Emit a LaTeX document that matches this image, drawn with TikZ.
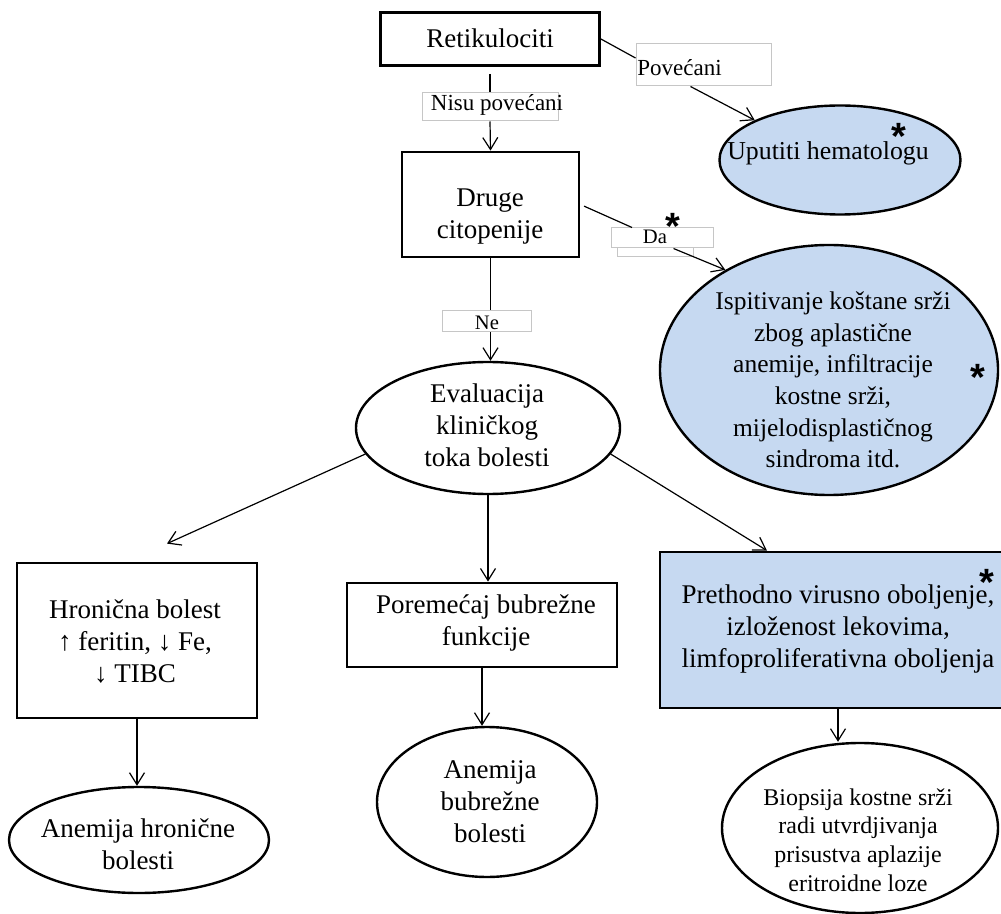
\documentclass[tikz,border=0pt]{standalone}
\usepackage{fontspec}
\setmainfont{Liberation Serif}
\newfontfamily\starfont{Liberation Sans}
\usetikzlibrary{arrows.meta,shapes.geometric,calc}
\definecolor{paleblue}{RGB}{198,217,241}

\begin{document}
\begin{tikzpicture}[x=0.5pt,y=-0.5pt,>={Straight Barb[length=6pt,width=7.5pt]},
  box/.style={draw,line width=1.4pt,inner sep=0pt},
  oval/.style={draw,ellipse,line width=1.2pt,inner sep=0pt},
  tag/.style={draw=gray!45,line width=0.5pt,inner sep=0pt},
  txt/.style={align=center,inner sep=0pt,font=\rmfamily\fontsize{13.5}{16}\selectfont},
  small/.style={inner sep=0pt,font=\rmfamily\fontsize{11.5}{13}\selectfont},
  tiny/.style={inner sep=0pt,font=\rmfamily\fontsize{10.3}{12}\selectfont},
  star/.style={inner sep=0pt,text height=0.3em,text depth=0pt,font=\starfont\bfseries\fontsize{19}{19}\selectfont},
  link/.style={->,line width=0.6pt}]
  \useasboundingbox (0,0) rectangle (1001,914);

  % shapes
  \node[box,minimum width=109.5pt,minimum height=26.5pt] (ret) at (490,39) {};
  \node[tag,minimum width=67.5pt,minimum height=21pt] (pov) at (703.5,65) {};
  \node[tag,minimum width=68pt,minimum height=14pt] (nisu) at (490,107) {};
  \node[box,minimum width=88.5pt,minimum height=52.5pt] (druge) at (490.5,204.5) {};
  \node[tag,minimum width=51pt,minimum height=10pt] (da) at (662.5,238) {};
  \draw[gray!45,line width=0.5pt] ([xshift=3pt]da.south west) -- ++(0,8) -- ++(76,0) -- ++(0,-8);
  \node[oval,fill=paleblue,minimum width=120.5pt,minimum height=54.5pt] (uput) at (840,160) {};
  \node[oval,fill=paleblue,minimum width=169pt,minimum height=125pt] (ispit) at (829,370) {};
  \node[tag,minimum width=44.5pt,minimum height=10.5pt] (ne) at (486.5,321.5) {};
  \node[oval,minimum width=132pt,minimum height=66pt] (eval) at (488,428) {};
  \node[box,minimum width=120pt,minimum height=77.5pt] (hron) at (137,640.5) {};
  \node[box,minimum width=135pt,minimum height=42pt] (porem) at (482,625) {};
  \node[box,fill=paleblue,minimum width=172pt,minimum height=78pt] (preth) at (832,630) {};
  \node[oval,minimum width=130pt,minimum height=53pt] (anh) at (139,840) {};
  \node[oval,minimum width=110pt,minimum height=75pt] (anb) at (487,802) {};
  \node[oval,minimum width=138pt,minimum height=85pt] (biop) at (860,828) {};

  % texts
  \node[txt] (ret-t) at (490,38) {Retikulociti};
  \node[small,anchor=west] (pov-t) at (637,68) {Povećani};
  \node[small] (nisu-t) at (497,105) {Nisu povećani};
  \node[txt] (druge-t) at (490,217) {Druge\\citopenije};
  \node[tiny] (da-t) at (655,237) {Da};
  \node[txt,font=\rmfamily\fontsize{12.9}{16}\selectfont] (uput-t) at (828,153) {Uputiti hematologu};
  \node[txt,font=\rmfamily\fontsize{12.75}{15.8}\selectfont] (ispit-t) at (833,380)
    {Ispitivanje koštane srži\\zbog aplastične\\anemije, infiltracije\\kostne srži,\\mijelodisplastičnog\\sindroma itd.};
  \node[tiny] (ne-t) at (487,323) {Ne};
  \node[txt] (eval-t) at (487,425) {Evaluacija\\kliničkog\\toka bolesti};
  \node[txt] (hron-t) at (135,642) {Hronična bolest\\↑ feritin, ↓ Fe,\\↓ TIBC};
  \node[txt] (porem-t) at (486,623) {Poremećaj bubrežne\\funkcije};
  \node[txt] (preth-t) at (838,629) {Prethodno virusno oboljenje,\\izloženost lekovima,\\limfoproliferativna oboljenja};
  \node[txt] (anh-t) at (138,844) {Anemija hronične\\bolesti};
  \node[txt] (anb-t) at (490,802) {Anemija\\bubrežne\\bolesti};
  \node[txt,font=\rmfamily\fontsize{12}{14.3}\selectfont] (biop-t) at (858,840)
    {Biopsija kostne srži\\radi utvrdjivanja\\prisustva aplazije\\eritroidne loze};

  % asterisks
  \node[star] (s1) at (899,130) {\raisebox{-0.43em}{*}};
  \node[star] (s2) at (673,220) {\raisebox{-0.43em}{*}};
  \node[star] (s3) at (978,371) {\raisebox{-0.43em}{*}};
  \node[star] (s4) at (987,576) {\raisebox{-0.43em}{*}};

  % connectors
  \draw[line width=0.6pt] (ret.east) -- ([yshift=3.5pt]pov.west);
  \draw[link] ([xshift=-6.5pt]pov.south) -- (uput.155);
  \draw[line width=0.6pt,shorten <=3.5pt] (ret.south) -- (nisu.north);
  \draw[link] (nisu.south) -- (druge.north);
  \draw[line width=0.6pt,shorten <=2pt] (druge.east) -- ([xshift=10.5pt]da.north west);
  \draw[link] ([xshift=5.5pt]da.south) -- (ispit.136);
  \draw[line width=0.6pt] (druge.south) -- (druge.south |- ne.north);
  \draw[link] (druge.south |- ne.south) -- (druge.south |- eval.north);
  \draw[link] (eval.192) -- ([xshift=15pt,yshift=9pt]hron.north);
  \draw[link] (eval.south) -- (eval.south |- porem.north);
  \draw[link] (eval.-12) -- ([xshift=-32.5pt]preth.north);
  \draw[link] (hron.south) -- (hron.south |- anh.north);
  \draw[link] (porem.south) -- (porem.south |- anb.north);
  \draw[link] ([xshift=3pt]preth.south) -- ([xshift=3pt]preth.south |- biop.north);
\end{tikzpicture}
\end{document}
